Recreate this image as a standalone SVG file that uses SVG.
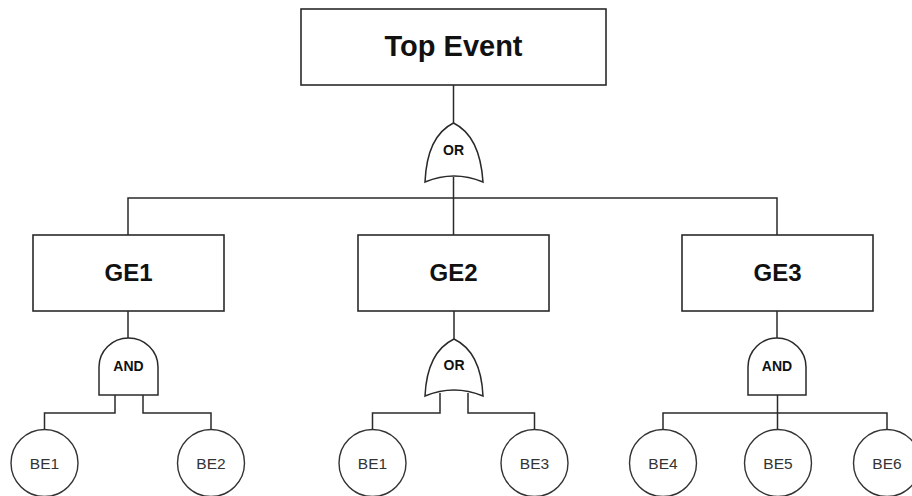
<svg xmlns="http://www.w3.org/2000/svg" width="912" height="496" viewBox="0 0 912 496">
  <style>
    .box { fill: #ffffff; stroke: #2a2a2a; stroke-width: 1.6; }
    .gate { fill: #ffffff; stroke: #2a2a2a; stroke-width: 1.5; }
    .basic { fill: #ffffff; stroke: #333333; stroke-width: 1.4; }
    .wire { fill: none; stroke: #2a2a2a; stroke-width: 1.5; }
    .title { font-family: "Liberation Sans", Arial, sans-serif; font-weight: bold; fill: #111111; text-anchor: middle; }
    .glabel { font-family: "Liberation Sans", Arial, sans-serif; font-weight: bold; font-size: 14px; fill: #111111; text-anchor: middle; }
    .blabel { font-family: "Liberation Sans", Arial, sans-serif; font-size: 15.5px; fill: #333333; text-anchor: middle; }
  </style>
  <rect width="912" height="496" fill="#ffffff"/>

  <!-- connectors -->
  <g id="connectors" class="wire">
    <line x1="453.5" y1="85" x2="453.5" y2="123"/>
    <line x1="453.5" y1="177" x2="453.5" y2="235"/>
    <polyline points="128,235 128,198 777,198 777,235"/>
    <line x1="128" y1="311" x2="128" y2="338"/>
    <line x1="454" y1="311" x2="454" y2="339"/>
    <line x1="777" y1="311" x2="777" y2="338"/>
    <!-- GE1 AND inputs -->
    <polyline points="115,395 115,413 44.5,413 44.5,429.5"/>
    <polyline points="143,395 143,413 211,413 211,429.5"/>
    <!-- GE2 OR inputs -->
    <polyline points="440,393 440,413 372.5,413 372.5,429.5"/>
    <polyline points="468,393 468,413 534.5,413 534.5,429.5"/>
    <!-- GE3 AND inputs -->
    <line x1="777.5" y1="395" x2="777.5" y2="429.5"/>
    <polyline points="663,429.5 663,413 887,413 887,429.5"/>
  </g>

  <g id="top-event">
    <rect class="box" x="301" y="9" width="305" height="76"/>
    <text class="title" x="453.5" y="56" font-size="29">Top Event</text>
  </g>

  <g id="or-top">
    <path class="gate" d="M425,182 Q427,136 453.5,123 Q480,136 483,182 Q454,170 425,182 Z"/>
    <text class="glabel" x="453.5" y="155">OR</text>
  </g>

  <g id="ge1">
    <rect class="box" x="33" y="235" width="191" height="76"/>
    <text class="title" x="128.5" y="281" font-size="24">GE1</text>
  </g>
  <g id="ge2">
    <rect class="box" x="358" y="235" width="191" height="76"/>
    <text class="title" x="453.5" y="281" font-size="24">GE2</text>
  </g>
  <g id="ge3">
    <rect class="box" x="682" y="235" width="191" height="76"/>
    <text class="title" x="777.5" y="281" font-size="24">GE3</text>
  </g>

  <g id="and-ge1">
    <path class="gate" d="M99,395 V367 A29.5,29 0 0 1 158,367 V395 Z"/>
    <text class="glabel" x="128.5" y="371" font-size="15">AND</text>
  </g>
  <g id="or-ge2">
    <path class="gate" d="M425,396 Q427,352 454,339 Q481,352 483,396 Q454,384 425,396 Z"/>
    <text class="glabel" x="454" y="370">OR</text>
  </g>
  <g id="and-ge3">
    <path class="gate" d="M748,395 V367 A29,29 0 0 1 806,367 V395 Z"/>
    <text class="glabel" x="777" y="371" font-size="15">AND</text>
  </g>

  <g id="be1-a">
    <circle class="basic" cx="44.5" cy="463" r="33.5"/>
    <text class="blabel" x="44.5" y="468.5">BE1</text>
  </g>
  <g id="be2">
    <circle class="basic" cx="211" cy="463" r="33.5"/>
    <text class="blabel" x="211" y="468.5">BE2</text>
  </g>
  <g id="be1-b">
    <circle class="basic" cx="372.5" cy="463" r="33.5"/>
    <text class="blabel" x="372.5" y="468.5">BE1</text>
  </g>
  <g id="be3">
    <circle class="basic" cx="534.5" cy="463" r="33.5"/>
    <text class="blabel" x="534.5" y="468.5">BE3</text>
  </g>
  <g id="be4">
    <circle class="basic" cx="663" cy="463" r="33.5"/>
    <text class="blabel" x="663" y="468.5">BE4</text>
  </g>
  <g id="be5">
    <circle class="basic" cx="778" cy="463" r="33.5"/>
    <text class="blabel" x="778" y="468.5">BE5</text>
  </g>
  <g id="be6">
    <circle class="basic" cx="887" cy="463" r="33.5"/>
    <text class="blabel" x="887" y="468.5">BE6</text>
  </g>
</svg>
